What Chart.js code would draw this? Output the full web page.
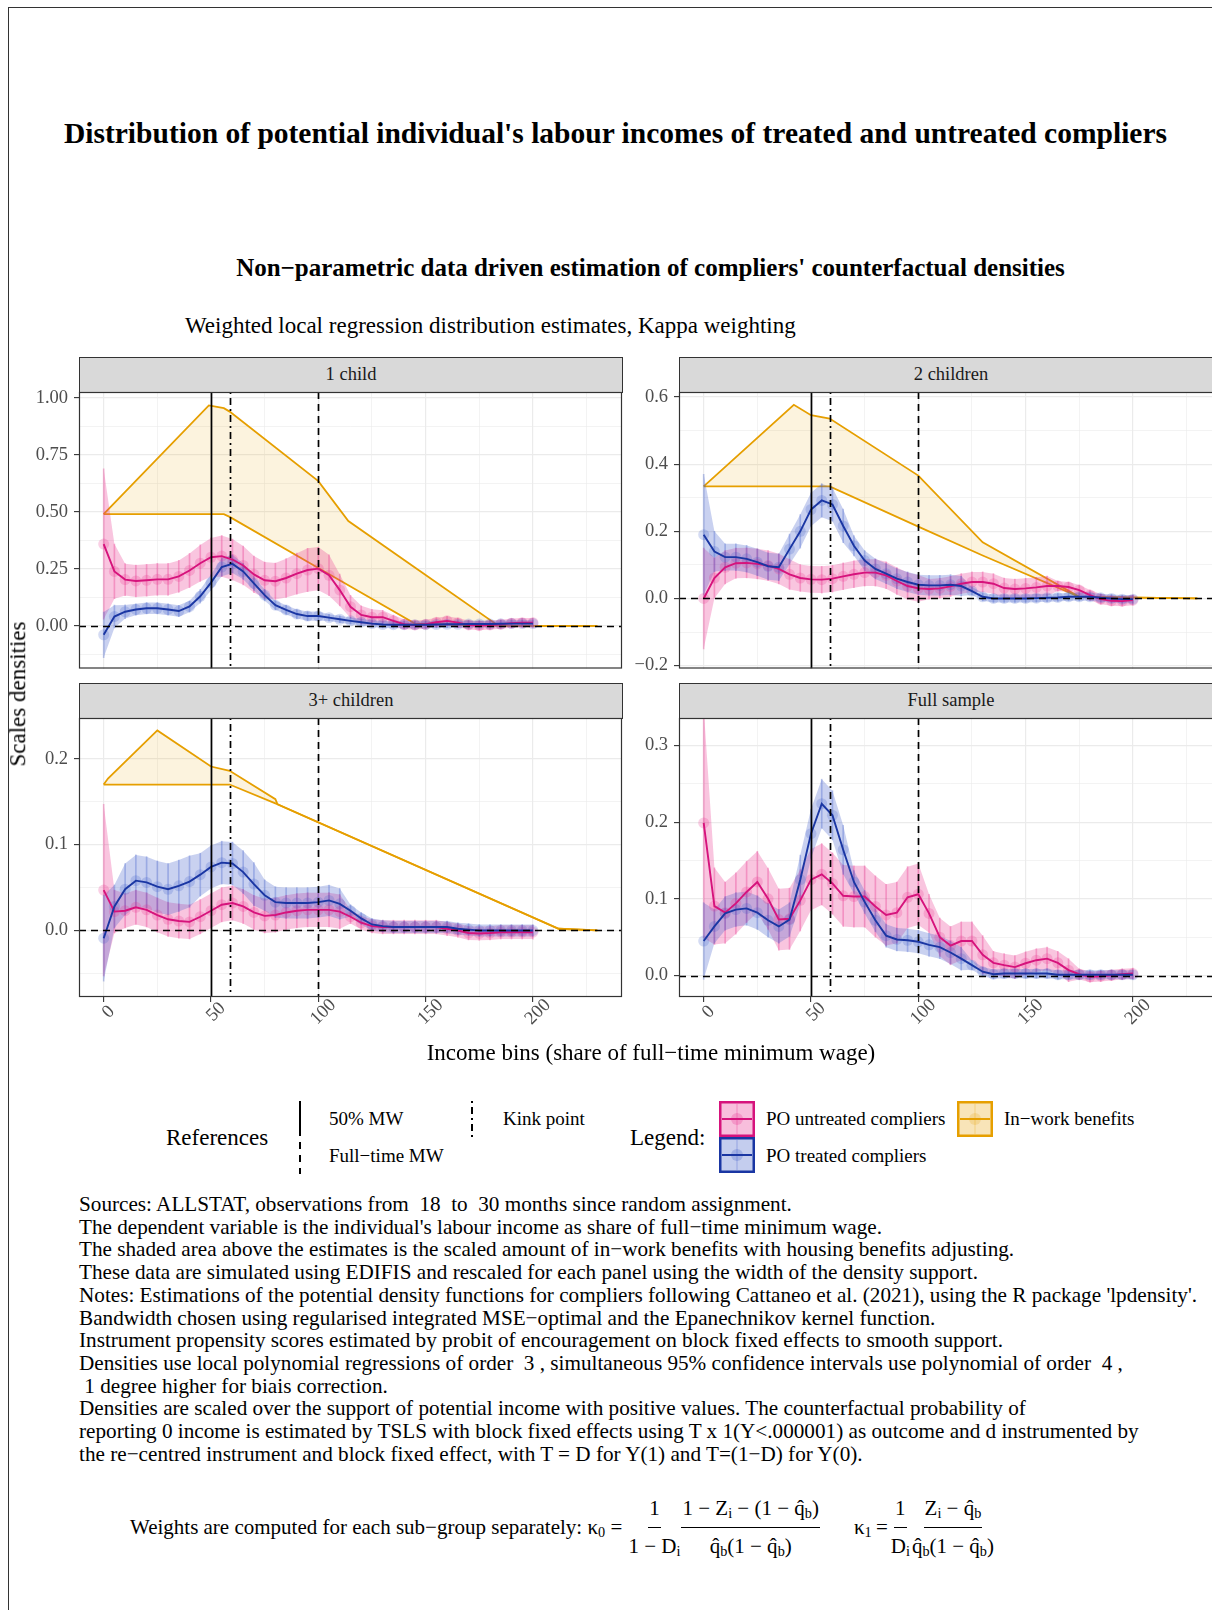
<!DOCTYPE html>
<html>
<head>
<meta charset="utf-8">
<script src="https://cdn.jsdelivr.net/npm/chart.js@4.4.1/dist/chart.umd.min.js"></script>
<style>
  html, body { margin: 0; padding: 0; background: #fff; overflow: hidden; }
  body { width: 1212px; height: 1610px; position: relative; font-family: "Liberation Serif", "Times New Roman", serif; color: #000; }
  .t { position: absolute; white-space: pre; line-height: 1.2; }
  .frame { position: absolute; left: 8px; top: 7px; width: 1400px; height: 1800px; border-left: 1.5px solid #333; border-top: 1.5px solid #333; }
  .strip { position: absolute; height: 36px; width: 544px; background: #d9d9d9; border: 1px solid #333; box-sizing: border-box; text-align: center; font-size: 18.5px; line-height: 33px; color: #1a1a1a; }
  canvas { position: absolute; }
  svg { position: absolute; overflow: visible; }
  .formula { position: absolute; left: 130px; top: 1487px; height: 80px; display: flex; align-items: center; font-size: 21px; white-space: pre; }
  .frac { display: inline-flex; flex-direction: column; align-items: center; margin: 0; }
  .frac span { line-height: 1.72; padding: 0 1px; }
  .frac span:first-child { border-bottom: 1.3px solid #000; }
  sub { font-size: 0.68em; vertical-align: -0.22em; line-height: 0; }
</style>
</head>
<body>
<div class="frame"></div>

<div class="t" style="left:0; width:1231px; text-align:center; top:116px; font-size:29.5px; font-weight:bold;">Distribution of potential individual's labour incomes of treated and untreated compliers</div>
<div class="t" style="left:0; width:1301px; text-align:center; top:253px; font-size:25px; font-weight:bold;">Non−parametric data driven estimation of compliers' counterfactual densities</div>
<div class="t" style="left:185px; top:312px; font-size:23px;">Weighted local regression distribution estimates, Kappa weighting</div>

<div class="strip" id="strip0" style="left:79px; top:357px;"></div>
<div class="strip" id="strip1" style="left:679px; top:357px;"></div>
<div class="strip" id="strip2" style="left:79px; top:683px;"></div>
<div class="strip" id="strip3" style="left:679px; top:683px;"></div>

<canvas id="p0" width="611" height="294" style="left:17px; top:380px;"></canvas>
<canvas id="p1" width="611" height="294" style="left:617px; top:380px;"></canvas>
<canvas id="p2" width="611" height="336" style="left:17px; top:706px;"></canvas>
<canvas id="p3" width="611" height="336" style="left:617px; top:706px;"></canvas>

<div class="t" style="left:18px; top:694px; font-size:23px; transform:translate(-50%,-50%) rotate(-90deg);">Scales densities</div>
<div class="t" style="left:0; width:1302px; text-align:center; top:1039px; font-size:23px;">Income bins (share of full−time minimum wage)</div>

<!-- references legend -->
<div class="t" style="left:166px; top:1124px; font-size:23px;">References</div>
<svg style="left:296px; top:1100px;" width="8" height="76">
  <line x1="4" y1="1" x2="4" y2="36" stroke="#000" stroke-width="2"/>
  <line x1="4" y1="42" x2="4" y2="74" stroke="#000" stroke-width="2" stroke-dasharray="7 6"/>
</svg>
<svg style="left:468px; top:1100px;" width="8" height="40">
  <line x1="4" y1="1" x2="4" y2="37" stroke="#000" stroke-width="2" stroke-dasharray="2 4 7 4"/>
</svg>
<div class="t" style="left:329px; top:1108px; font-size:19px;">50% MW</div>
<div class="t" style="left:329px; top:1145px; font-size:19px;">Full−time MW</div>
<div class="t" style="left:503px; top:1108px; font-size:19px;">Kink point</div>

<!-- colour legend -->
<div class="t" style="left:630px; top:1124px; font-size:23px;">Legend:</div>
<svg style="left:719px; top:1101px;" width="36" height="36">
  <rect x="1.25" y="1.25" width="33.5" height="33.5" fill="rgba(231,41,138,0.3)" stroke="#D6137C" stroke-width="2.5"/>
  <line x1="18" y1="3" x2="18" y2="33" stroke="rgba(231,41,138,0.35)" stroke-width="1"/>
  <circle cx="18" cy="18" r="6" fill="rgba(231,41,138,0.25)"/>
  <line x1="3" y1="18" x2="33" y2="18" stroke="#D6137C" stroke-width="2"/>
</svg>
<svg style="left:719px; top:1137px;" width="36" height="36">
  <rect x="1.25" y="1.25" width="33.5" height="33.5" fill="rgba(60,90,200,0.3)" stroke="#1A36A3" stroke-width="2.5"/>
  <line x1="18" y1="3" x2="18" y2="33" stroke="rgba(60,90,200,0.35)" stroke-width="1"/>
  <circle cx="18" cy="18" r="6" fill="rgba(60,90,200,0.25)"/>
  <line x1="3" y1="18" x2="33" y2="18" stroke="#1A36A3" stroke-width="2"/>
</svg>
<svg style="left:957px; top:1101px;" width="36" height="36">
  <rect x="1.25" y="1.25" width="33.5" height="33.5" fill="rgba(230,159,0,0.28)" stroke="#E69F00" stroke-width="2.5"/>
  <line x1="18" y1="3" x2="18" y2="33" stroke="rgba(230,159,0,0.3)" stroke-width="1"/>
  <circle cx="18" cy="18" r="6" fill="rgba(230,159,0,0.2)"/>
  <line x1="3" y1="18" x2="33" y2="18" stroke="#E69F00" stroke-width="2"/>
</svg>
<div class="t" style="left:766px; top:1108px; font-size:19px;">PO untreated compliers</div>
<div class="t" style="left:766px; top:1145px; font-size:19px;">PO treated compliers</div>
<div class="t" style="left:1004px; top:1108px; font-size:19px;">In−work benefits</div>

<div class="t" style="left:79px; top:1193px; font-size:21.2px; line-height:22.7px;">Sources: ALLSTAT, observations from  18  to  30 months since random assignment.
The dependent variable is the individual's labour income as share of full−time minimum wage.
The shaded area above the estimates is the scaled amount of in−work benefits with housing benefits adjusting.
These data are simulated using EDIFIS and rescaled for each panel using the width of the density support.
Notes: Estimations of the potential density functions for compliers following Cattaneo et al. (2021), using the R package 'lpdensity'.
Bandwidth chosen using regularised integrated MSE−optimal and the Epanechnikov kernel function.
Instrument propensity scores estimated by probit of encouragement on block fixed effects to smooth support.
Densities use local polynomial regressions of order  3 , simultaneous 95% confidence intervals use polynomial of order  4 ,
 1 degree higher for biais correction.
Densities are scaled over the support of potential income with positive values. The counterfactual probability of
reporting 0 income is estimated by TSLS with block fixed effects using T x 1(Y&lt;.000001) as outcome and d instrumented by
the re−centred instrument and block fixed effect, with T = D for Y(1) and T=(1−D) for Y(0).</div>

<div class="formula"><span>Weights are computed for each sub−group separately: κ<sub>0</sub> = </span><span class="frac"><span>1</span><span>1 − D<sub>i</sub></span></span><span class="frac"><span>1 − Z<sub>i</sub> − (1 − q&#770;<sub>b</sub>)</span><span>q&#770;<sub>b</sub>(1 − q&#770;<sub>b</sub>)</span></span><span style="margin-left:34px;">κ<sub>1</sub>&#8201;=</span><span class="frac" style="margin-left:2px;"><span>1</span><span>D<sub>i</sub></span></span><span class="frac"><span>Z<sub>i</sub> − q&#770;<sub>b</sub></span><span>q&#770;<sub>b</sub>(1 − q&#770;<sub>b</sub>)</span></span></div>

<script>
// income bins (share of full-time minimum wage)
const incomeBins = [0, 5, 10, 15, 20, 25, 30, 35, 40, 45, 50, 55, 60, 65, 70, 75, 80, 85, 90, 95, 100,
  105, 110, 115, 120, 125, 130, 135, 140, 145, 150, 155, 160, 165, 170, 175, 180, 185, 190, 195, 200];
const xMajorTicks = [0, 50, 100, 150, 200];
const refLines = [50, 58.7, 100]; // 50% MW, kink point, full-time MW
const panelNames = ['1 child', '2 children', '3+ children', 'Full sample'];

// 1 child
const oneChildUntreated = [0.359, 0.239, 0.203, 0.197, 0.200, 0.204, 0.204, 0.217, 0.243, 0.275, 0.301, 0.306, 0.291, 0.265, 0.226, 0.200, 0.196, 0.210, 0.229, 0.245, 0.251,
  0.222, 0.157, 0.084, 0.048, 0.038, 0.038, 0.022, 0.007, 0.004, 0.007, 0.016, 0.022, 0.014, 0.004, 0.001, 0.004, 0.007, 0.012, 0.014, 0.014];
const oneChildUntreatedCI = [0.33, 0.12, 0.07, 0.07, 0.07, 0.07, 0.07, 0.07, 0.075, 0.08, 0.085, 0.09, 0.09, 0.085, 0.08, 0.08, 0.08, 0.085, 0.09, 0.095, 0.095,
  0.09, 0.07, 0.05, 0.04, 0.035, 0.03, 0.025, 0.022, 0.02, 0.02, 0.02, 0.02, 0.02, 0.02, 0.02, 0.02, 0.02, 0.02, 0.02, 0.02];
const oneChildTreated = [-0.039, 0.041, 0.062, 0.072, 0.077, 0.077, 0.072, 0.065, 0.085, 0.130, 0.190, 0.258, 0.272, 0.239, 0.186, 0.135, 0.091, 0.070, 0.052, 0.043, 0.043,
  0.036, 0.029, 0.022, 0.016, 0.010, 0.006, 0.005, 0.005, 0.005, 0.005, 0.006, 0.007, 0.007, 0.008, 0.008, 0.008, 0.009, 0.010, 0.010, 0.010];
const oneChildTreatedCI = [0.10, 0.05, 0.03, 0.025, 0.025, 0.025, 0.025, 0.025, 0.025, 0.03, 0.035, 0.04, 0.04, 0.035, 0.03, 0.025, 0.02, 0.02, 0.02, 0.02, 0.02,
  0.015, 0.015, 0.015, 0.015, 0.015, 0.015, 0.015, 0.015, 0.015, 0.015, 0.015, 0.015, 0.015, 0.015, 0.015, 0.015, 0.015, 0.015, 0.015, 0.015];
const oneChildBenefitX = [0, 2, 49, 56, 58.7, 100, 114, 145, 184, 230];
const oneChildBenefitHi = [0.49, 0.51, 0.967, 0.955, 0.94, 0.635, 0.46, 0.256, 0.0, 0.0];
const oneChildBenefitLo = [0.49, 0.49, 0.49, 0.49, 0.478, 0.254, 0.178, 0.01, 0.0, 0.0];

// 2 children
const twoChildUntreated = [0.000, 0.061, 0.093, 0.105, 0.106, 0.103, 0.098, 0.088, 0.072, 0.061, 0.057, 0.056, 0.059, 0.066, 0.072, 0.077, 0.077, 0.069, 0.052, 0.037, 0.030,
  0.028, 0.030, 0.036, 0.044, 0.049, 0.049, 0.044, 0.031, 0.028, 0.030, 0.033, 0.037, 0.037, 0.034, 0.025, 0.010, -0.002, -0.007, -0.008, -0.005];
const twoChildUntreatedCI = [0.15, 0.06, 0.05, 0.045, 0.045, 0.045, 0.045, 0.045, 0.045, 0.04, 0.04, 0.04, 0.04, 0.04, 0.04, 0.04, 0.04, 0.04, 0.04, 0.04, 0.04,
  0.03, 0.03, 0.03, 0.03, 0.03, 0.03, 0.03, 0.03, 0.03, 0.03, 0.03, 0.03, 0.015, 0.015, 0.015, 0.015, 0.015, 0.015, 0.015, 0.015];
const twoChildTreated = [0.190, 0.140, 0.123, 0.123, 0.118, 0.108, 0.096, 0.093, 0.147, 0.200, 0.265, 0.292, 0.280, 0.216, 0.157, 0.113, 0.088, 0.074, 0.059, 0.049, 0.041,
  0.039, 0.039, 0.041, 0.037, 0.022, 0.005, 0.000, 0.000, 0.000, 0.000, 0.001, 0.002, 0.003, 0.005, 0.005, 0.005, 0.002, 0.000, -0.002, -0.002];
const twoChildTreatedCI = [0.18, 0.06, 0.04, 0.04, 0.04, 0.04, 0.04, 0.04, 0.045, 0.05, 0.05, 0.05, 0.05, 0.05, 0.03, 0.03, 0.03, 0.03, 0.03, 0.03, 0.03,
  0.03, 0.03, 0.03, 0.03, 0.012, 0.012, 0.012, 0.012, 0.012, 0.012, 0.012, 0.012, 0.012, 0.012, 0.012, 0.012, 0.012, 0.012, 0.012, 0.012];
const twoChildBenefitX = [0, 42, 50, 58.7, 100, 130, 175, 230];
const twoChildBenefitHi = [0.334, 0.577, 0.546, 0.536, 0.366, 0.167, 0.005, 0.0];
const twoChildBenefitLo = [0.334, 0.334, 0.334, 0.334, 0.214, 0.128, 0.005, 0.0];

// 3+ children
const threeChildUntreated = [0.047, 0.022, 0.023, 0.027, 0.024, 0.018, 0.013, 0.011, 0.010, 0.016, 0.023, 0.030, 0.032, 0.028, 0.021, 0.017, 0.018, 0.021, 0.023, 0.024, 0.024,
  0.024, 0.022, 0.016, 0.009, 0.005, 0.004, 0.004, 0.004, 0.004, 0.004, 0.004, 0.002, 0.000, -0.003, -0.0035, -0.003, -0.002, -0.002, -0.002, -0.002];
const threeChildUntreatedCI = [0.10, 0.025, 0.02, 0.02, 0.02, 0.02, 0.02, 0.02, 0.02, 0.02, 0.02, 0.02, 0.02, 0.02, 0.02, 0.02, 0.02, 0.02, 0.02, 0.02, 0.02,
  0.02, 0.02, 0.008, 0.008, 0.008, 0.008, 0.008, 0.008, 0.008, 0.008, 0.008, 0.008, 0.008, 0.008, 0.008, 0.008, 0.008, 0.008, 0.008, 0.008];
const threeChildTreated = [-0.009, 0.028, 0.048, 0.058, 0.056, 0.051, 0.048, 0.052, 0.057, 0.065, 0.074, 0.079, 0.078, 0.068, 0.054, 0.041, 0.033, 0.032, 0.032, 0.032, 0.033,
  0.035, 0.031, 0.023, 0.014, 0.007, 0.005, 0.004, 0.004, 0.004, 0.004, 0.004, 0.004, 0.002, 0.001, 0.000, 0.000, 0.000, 0.000, 0.000, 0.000];
const threeChildTreatedCI = [0.05, 0.025, 0.03, 0.03, 0.03, 0.03, 0.03, 0.03, 0.03, 0.025, 0.025, 0.025, 0.025, 0.025, 0.025, 0.018, 0.018, 0.018, 0.018, 0.018, 0.018,
  0.018, 0.018, 0.007, 0.007, 0.007, 0.007, 0.007, 0.007, 0.007, 0.007, 0.007, 0.007, 0.007, 0.007, 0.007, 0.007, 0.007, 0.007, 0.007, 0.007];
const threeChildBenefitX = [0, 2, 25, 50, 58.7, 80, 81, 212, 230];
const threeChildBenefitHi = [0.170, 0.177, 0.233, 0.191, 0.186, 0.153, 0.147, 0.002, 0.0];
const threeChildBenefitLo = [0.170, 0.170, 0.170, 0.170, 0.170, 0.148, 0.147, 0.002, 0.0];

// Full sample
const fullUntreated = [0.199, 0.0905, 0.082, 0.094, 0.109, 0.122, 0.100, 0.073, 0.074, 0.098, 0.125, 0.132, 0.120, 0.104, 0.103, 0.103, 0.090, 0.079, 0.082, 0.102, 0.106,
  0.081, 0.050, 0.039, 0.045, 0.045, 0.027, 0.0165, 0.0135, 0.011, 0.016, 0.020, 0.022, 0.0165, 0.007, 0.0017, -0.0017, -0.0009, 0.0004, 0.0017, 0.0026];
const fullUntreatedCI = [0.15, 0.05, 0.04, 0.04, 0.04, 0.04, 0.04, 0.04, 0.04, 0.04, 0.04, 0.04, 0.04, 0.04, 0.04, 0.04, 0.04, 0.04, 0.04, 0.04, 0.04,
  0.025, 0.025, 0.025, 0.025, 0.025, 0.025, 0.015, 0.015, 0.015, 0.015, 0.015, 0.015, 0.015, 0.015, 0.007, 0.007, 0.007, 0.007, 0.007, 0.007];
const fullTreated = [0.045, 0.064, 0.081, 0.086, 0.0875, 0.082, 0.072, 0.064, 0.073, 0.125, 0.185, 0.224, 0.209, 0.164, 0.122, 0.096, 0.072, 0.052, 0.047, 0.046, 0.044,
  0.040, 0.037, 0.030, 0.022, 0.0135, 0.005, 0.0017, 0.0026, 0.0026, 0.0026, 0.0026, 0.0026, 0.001, 0.001, 0.001, 0.001, 0.001, 0.001, 0.001, 0.001];
const fullTreatedCI = [0.05, 0.022, 0.022, 0.022, 0.022, 0.022, 0.022, 0.022, 0.022, 0.032, 0.032, 0.032, 0.032, 0.032, 0.015, 0.015, 0.015, 0.015, 0.015, 0.015, 0.015,
  0.015, 0.015, 0.015, 0.015, 0.006, 0.006, 0.006, 0.006, 0.006, 0.006, 0.006, 0.006, 0.006, 0.006, 0.006, 0.006, 0.006, 0.006, 0.006, 0.006];

// y axis major ticks per panel
const yTicks1 = [0, 0.25, 0.5, 0.75, 1.0];
const yTicks2 = [-0.2, 0, 0.2, 0.4, 0.6];
const yTicks3 = [0, 0.1, 0.2];
const yTicks4 = [0, 0.1, 0.2, 0.3];

const PINK = '#D6137C', PINK_RGB = '231,41,138';
const BLUE = '#1A36A3', BLUE_RGB = '60,90,200';
const ORANGE = '#E69F00';
const FONT = '"Liberation Serif", "Times New Roman", serif';

const panelDeco = {
  id: 'panelDeco',
  afterDatasetsDraw(chart) {
    const { ctx, chartArea: a, scales: { x, y } } = chart;
    ctx.save();
    ctx.beginPath();
    ctx.rect(a.left, a.top, a.width, a.height);
    ctx.clip();
    ctx.strokeStyle = '#000';
    ctx.lineWidth = 1.7;
    const dashes = [[], [2, 4, 7, 4], [7, 5]];
    refLines.forEach((v, i) => {
      const px = Math.round(x.getPixelForValue(v)) + 0.5;
      ctx.setLineDash(dashes[i]);
      ctx.beginPath();
      ctx.moveTo(px, a.top);
      ctx.lineTo(px, a.bottom);
      ctx.stroke();
    });
    const py = Math.round(y.getPixelForValue(0)) + 0.5;
    ctx.setLineDash([7, 5]);
    ctx.beginPath();
    ctx.moveTo(a.left, py);
    ctx.lineTo(a.right, py);
    ctx.stroke();
    ctx.restore();
  },
  afterDraw(chart, args, opts) {
    const { ctx, chartArea: a, scales: { x } } = chart;
    ctx.save();
    ctx.strokeStyle = '#333';
    ctx.lineWidth = 1.2;
    ctx.strokeRect(a.left + 0.5, a.top + 0.5, a.width - 1, a.height - 1);
    if (opts.showX) {
      ctx.font = '18.5px ' + FONT;
      ctx.fillStyle = '#4D4D4D';
      ctx.textAlign = 'center';
      ctx.textBaseline = 'middle';
      xMajorTicks.forEach(v => {
        ctx.save();
        ctx.translate(x.getPixelForValue(v) + 5, a.bottom + 15);
        ctx.rotate(-Math.PI / 4);
        ctx.fillText(String(v), 0, 0);
        ctx.restore();
      });
    }
    ctx.restore();
  }
};

function gridTicks(majors, min, max) {
  const step = majors[1] - majors[0];
  const out = [];
  for (let v = majors[0] - step; v <= majors[majors.length - 1] + step + 1e-9; v += step / 2) {
    const r = Math.round(v * 1000) / 1000;
    if (r >= min && r <= max) out.push({ value: r, isMajor: majors.some(m => Math.abs(m - r) < 1e-9) });
  }
  return out;
}

function makePanel(id, p) {
  const ds = [];
  const xy = (xs, ys) => xs.map((x, i) => ({ x, y: ys[i] }));
  if (p.benefitX) {
    ds.push({ data: xy(p.benefitX, p.benefitHi), borderColor: ORANGE, borderWidth: 1.8, pointRadius: 0, fill: false });
    ds.push({ data: xy(p.benefitX, p.benefitLo), borderColor: ORANGE, borderWidth: 1.8, pointRadius: 0,
      fill: '-1', backgroundColor: 'rgba(230,159,0,0.13)' });
  }
  const series = [
    { v: p.untreated, ci: p.untreatedCI, line: PINK, rgb: PINK_RGB, band: 0.27 },
    { v: p.treated, ci: p.treatedCI, line: BLUE, rgb: BLUE_RGB, band: 0.28 }
  ];
  series.forEach(s => {
    ds.push({ data: incomeBins.map((x, i) => ({ x, y: s.v[i] + s.ci[i] })), borderWidth: 0, borderColor: 'transparent', pointRadius: 0, fill: false });
    ds.push({ data: incomeBins.map((x, i) => ({ x, y: s.v[i] - s.ci[i] })), borderWidth: 0, borderColor: 'transparent', pointRadius: 0,
      fill: '-1', backgroundColor: `rgba(${s.rgb},${s.band})` });
  });
  series.forEach(s => {
    ds.push({ type: 'bar', data: incomeBins.map((x, i) => ({ x, y: [s.v[i] - s.ci[i], s.v[i] + s.ci[i]] })),
      backgroundColor: `rgba(${s.rgb},0.33)`, barThickness: 1, grouped: false, borderWidth: 0 });
  });
  series.forEach(s => {
    ds.push({ data: xy(incomeBins, s.v), showLine: false, pointRadius: 5.5, pointBorderWidth: 0,
      pointBackgroundColor: `rgba(${s.rgb},0.22)` });
  });
  series.forEach(s => {
    ds.push({ data: xy(incomeBins, s.v), borderColor: s.line, borderWidth: 1.9, pointRadius: 0, fill: false });
  });
  ds.forEach((d, i) => { d.order = ds.length - 1 - i; });

  const yGrid = gridTicks(p.yTicks, p.yMin, p.yMax);
  const xGrid = gridTicks(xMajorTicks, -11.5, 241.5);
  const fmt = v => (v < 0 ? '−' : '') + Math.abs(v).toFixed(p.dec);
  const gridCol = c => '#EBEBEB';
  const gridW = c => (c.tick && c.tick.isMajor ? 1.2 : 0.6);
  const tickCol = c => (c.tick && c.tick.isMajor ? '#333' : 'rgba(0,0,0,0)');

  new Chart(document.getElementById(id), {
    type: 'line',
    data: { datasets: ds },
    options: {
      responsive: false,
      animation: false,
      events: [],
      devicePixelRatio: 1,
      layout: { padding: { top: 12, right: 6, left: 0, bottom: 0 } },
      plugins: { legend: { display: false }, tooltip: { enabled: false }, panelDeco: { showX: p.showX } },
      scales: {
        x: {
          type: 'linear', min: -11.5, max: 241.5, offset: false,
          afterBuildTicks: s => { s.ticks = xGrid.map(t => ({ ...t })); },
          afterFit: s => { s.height = p.showX ? 45 : 3; s.paddingLeft = 0; s.paddingRight = 0; },
          ticks: { display: false },
          grid: { offset: false, color: gridCol, lineWidth: gridW, drawTicks: p.showX, tickLength: 5, tickColor: tickCol, tickWidth: 1.1 },
          border: { display: false }
        },
        y: {
          type: 'linear', min: p.yMin, max: p.yMax, beginAtZero: false,
          afterBuildTicks: s => { s.ticks = yGrid.map(t => ({ ...t })); },
          afterFit: s => { s.width = 62; s.paddingTop = 0; s.paddingBottom = 0; },
          ticks: {
            autoSkip: false, padding: 6, color: '#4D4D4D',
            font: { family: FONT, size: 18.5 },
            callback: (v, i, t) => (t[i].isMajor ? fmt(v) : '')
          },
          grid: { color: gridCol, lineWidth: gridW, drawTicks: true, tickLength: 5, tickColor: tickCol, tickWidth: 1.1 },
          border: { display: false }
        }
      }
    },
    plugins: [panelDeco]
  });
}

panelNames.forEach((n, i) => { document.getElementById('strip' + i).textContent = n; });

makePanel('p0', { untreated: oneChildUntreated, untreatedCI: oneChildUntreatedCI, treated: oneChildTreated, treatedCI: oneChildTreatedCI,
  benefitX: oneChildBenefitX, benefitHi: oneChildBenefitHi, benefitLo: oneChildBenefitLo,
  yMin: -0.187, yMax: 1.026, yTicks: yTicks1, dec: 2, showX: false });
makePanel('p1', { untreated: twoChildUntreated, untreatedCI: twoChildUntreatedCI, treated: twoChildTreated, treatedCI: twoChildTreatedCI,
  benefitX: twoChildBenefitX, benefitHi: twoChildBenefitHi, benefitLo: twoChildBenefitLo,
  yMin: -0.2086, yMax: 0.615, yTicks: yTicks2, dec: 1, showX: false });
makePanel('p2', { untreated: threeChildUntreated, untreatedCI: threeChildUntreatedCI, treated: threeChildTreated, treatedCI: threeChildTreatedCI,
  benefitX: threeChildBenefitX, benefitHi: threeChildBenefitHi, benefitLo: threeChildBenefitLo,
  yMin: -0.0775, yMax: 0.2475, yTicks: yTicks3, dec: 1, showX: true });
makePanel('p3', { untreated: fullUntreated, untreatedCI: fullUntreatedCI, treated: fullTreated, treatedCI: fullTreatedCI,
  yMin: -0.028, yMax: 0.3358, yTicks: yTicks4, dec: 1, showX: true });
</script>
</body>
</html>
